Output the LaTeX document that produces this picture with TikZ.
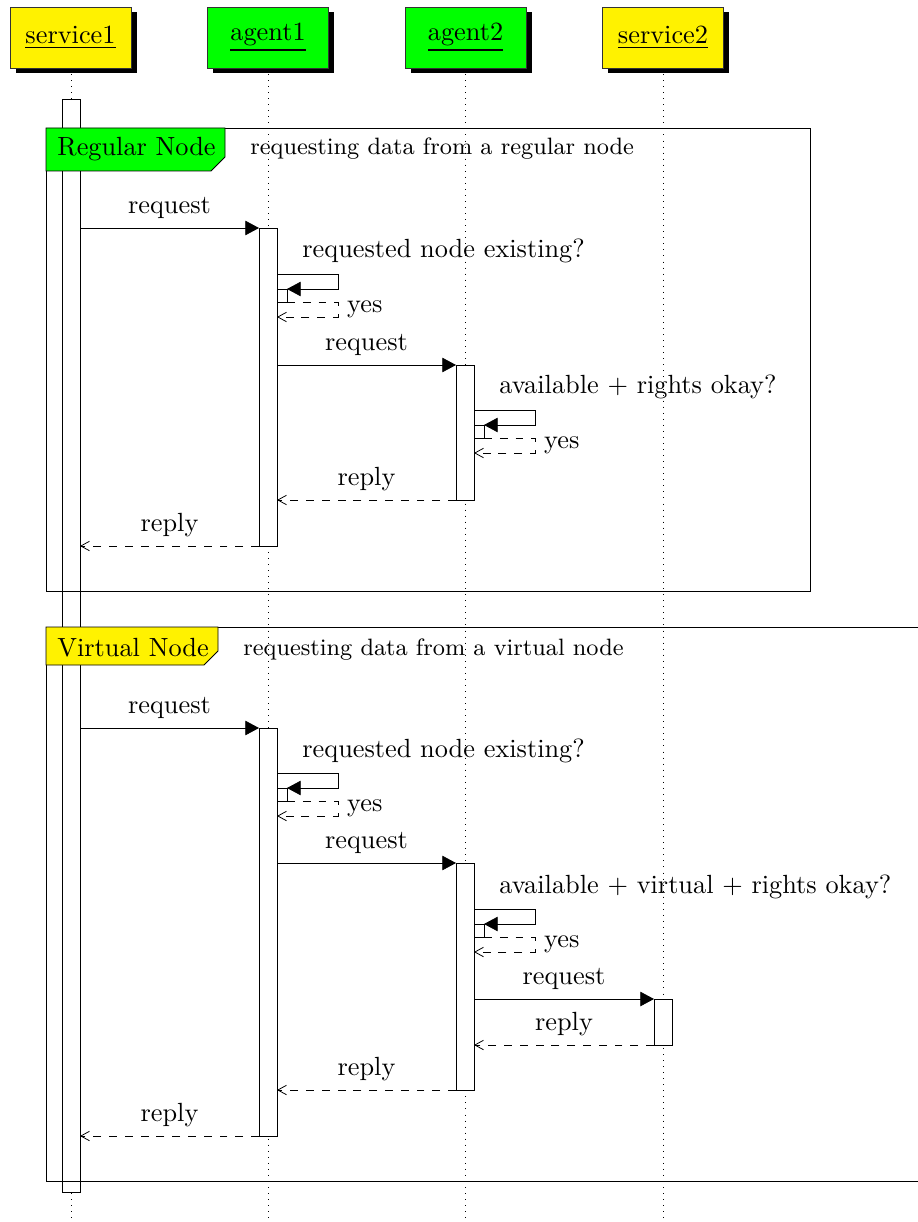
\documentclass[tikz,border=0pt]{standalone}
\usetikzlibrary{arrows.meta,shadows}
\newcommand\seqmsg[6]{%
  \coordinate (#2-from) at (#3,#5);
  \coordinate (#2-to) at (#4,#5);
  \draw[#1] (#2-from) -- node[above] (#2-lbl) {#6} (#2-to);
}
\newcommand\seqself[4]{%
  \coordinate (#1-a) at (#2,#3);
  \coordinate (#1-b) at ({#2+61},#3);
  \coordinate (#1-c) at ({#2+61},{#3+15});
  \coordinate (#1-d) at ({#2+10},{#3+15});
  \coordinate (#1-s) at (#2,{#3+15});
  \coordinate (#1-e) at ({#2+10},{#3+28});
  \coordinate (#1-f) at ({#2+61},{#3+28});
  \coordinate (#1-g) at ({#2+61},{#3+43});
  \coordinate (#1-h) at (#2,{#3+43});
  \draw[bar] (#1-s) rectangle (#1-e);
  \draw[call] (#1-a) -- (#1-b) -- (#1-c) -- (#1-d);
  \draw[ret] (#1-e) -- (#1-f) -- node[right] (#1-yes) {yes} (#1-g) -- (#1-h);
  \node[anchor=base west, inner sep=0pt] (#1-lbl) at ({#2+25},{#3-16}) {#4};
}
\begin{document}
\begin{tikzpicture}[x=0.3802pt,y=-0.3802pt, line width=0.3pt,
  head/.style={draw=black!80, minimum width=46pt, minimum height=23.2pt, inner sep=0pt,
    drop shadow={shadow xshift=2.2pt,shadow yshift=-2pt,fill=black,opacity=1}},
  lifeline/.style={dotted, line width=0.3pt},
  bar/.style={draw, fill=white},
  call/.style={-{Triangle[length=5.2pt,width=5.5pt]}},
  ret/.style={dashed,-{Straight Barb[length=3.3pt,width=3.6pt]}},
  flabel/.style={anchor=base west, inner sep=0pt}]
\useasboundingbox (0,0) rectangle (918,1222);

% header boxes
\node[head, fill=yellow] (s1) at (70.5,37.5) {\underline{service1}};
\node[head, fill=green]  (a1) at (268,37.5) {\underline{agent1}};
\node[head, fill=green]  (a2) at (465.5,37.5) {\underline{agent2}};
\node[head, fill=yellow] (s2) at (663,37.5) {\underline{service2}};

% lifelines
\coordinate (s1top) at (71,74);  \coordinate (s1end) at (71,1222);
\coordinate (a1top) at (268,74); \coordinate (a1end) at (268,1222);
\coordinate (a2top) at (465,74); \coordinate (a2end) at (465,1222);
\coordinate (s2top) at (663,74); \coordinate (s2end) at (663,1222);
\draw[lifeline] (s1top) -- (s1end);
\draw[lifeline] (a1top) -- (a1end);
\draw[lifeline] (a2top) -- (a2end);
\draw[lifeline] (s2top) -- (s2end);

% activation bars
\draw[bar] (62,99) rectangle (80,1192);
\draw[bar] (259,228) rectangle (277,546);
\draw[bar] (259,728) rectangle (277,1136);
\draw[bar] (456,365) rectangle (474,500);
\draw[bar] (456,863) rectangle (474,1090);
\draw[bar] (654,999) rectangle (672,1045);

% frame 1
\draw (46,128) rectangle (810,591);
\draw[fill=green] (46,128) -- (225,128) -- (225,157) -- (211,171) -- (46,171) -- cycle;
\node[flabel] (f1lbl) at (57,156) {Regular Node};
\node[flabel, font=\small] (f1desc) at (250,155) {requesting data from a regular node};

% frame 2
\draw (918,627) -- (46,627) -- (46,1181) -- (918,1181);
\draw[fill=yellow] (46,627) -- (218,627) -- (218,651) -- (204,665) -- (46,665) -- cycle;
\node[flabel] (f2lbl) at (57,656) {Virtual Node};
\node[flabel, font=\small] (f2desc) at (243,655) {requesting data from a virtual node};

% frame 1 messages
\seqmsg{call}{m1}{80}{259}{228}{request}
\seqself{c1}{277}{274}{requested node existing?}
\seqmsg{call}{m2}{277}{456}{365}{request}
\seqself{c2}{474}{410}{available + rights okay?}
\seqmsg{ret}{m3}{456}{277}{500}{reply}
\seqmsg{ret}{m4}{259}{80}{546}{reply}

% frame 2 messages
\seqmsg{call}{n1}{80}{259}{728}{request}
\seqself{d1}{277}{773}{requested node existing?}
\seqmsg{call}{n2}{277}{456}{863}{request}
\seqself{d2}{474}{909}{available + virtual + rights okay?}
\seqmsg{call}{n3}{474}{654}{999}{request}
\seqmsg{ret}{n4}{654}{474}{1045}{reply}
\seqmsg{ret}{n5}{456}{277}{1090}{reply}
\seqmsg{ret}{n6}{259}{80}{1136}{reply}
\end{tikzpicture}
\end{document}
